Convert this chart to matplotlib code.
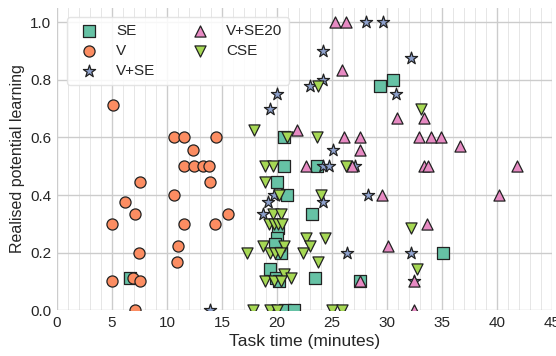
import matplotlib
matplotlib.use('Agg')
import matplotlib.pyplot as plt
from matplotlib.ticker import MultipleLocator

plt.rcParams['font.family'] = ['Liberation Sans', 'DejaVu Sans']

# data
se_x = [6.64, 20.6, 20.6, 23.65, 29.4, 30.55, 19.97, 20.9, 23.2, 20.1, 19.97, 19.8,
        20.4, 35.1, 19.4, 23.45, 27.55, 19.9, 20.2, 20.7, 21.5]
se_y = [0.111, 0.60, 0.50, 0.50, 0.778, 0.80, 0.444, 0.40, 0.333, 0.286, 0.25, 0.23,
        0.20, 0.20, 0.143, 0.111, 0.10, 0.111, 0.10, 0.0, 0.0]

v_x = [5.06, 10.67, 11.52, 14.45, 12.33, 11.52, 12.48, 13.27, 13.85, 7.55, 13.9, 10.67,
       6.2, 7.12, 15.55, 4.97, 11.58, 14.4, 11.03, 7.48, 10.88, 4.97, 6.94, 7.55, 7.09]
v_y = [0.714, 0.60, 0.60, 0.60, 0.556, 0.50, 0.50, 0.50, 0.50, 0.444, 0.444, 0.40,
       0.375, 0.333, 0.333, 0.30, 0.30, 0.30, 0.222, 0.20, 0.167, 0.10, 0.111, 0.10, 0.0]

vse_x = [28.1, 29.6, 24.15, 32.15, 24.2, 23.0, 30.8, 19.97, 19.4, 25.06, 24.2, 24.75,
         27.1, 19.7, 28.3, 19.2, 24.15, 18.7, 26.4, 32.2, 32.45, 13.9]
vse_y = [1.0, 1.0, 0.90, 0.875, 0.80, 0.778, 0.75, 0.75, 0.70, 0.556, 0.50, 0.50,
         0.50, 0.40, 0.40, 0.375, 0.375, 0.333, 0.20, 0.20, 0.10, 0.0]

vse20_x = [25.27, 26.27, 25.9, 30.9, 33.4, 21.8, 26.1, 27.5, 32.9, 34.0, 34.9, 36.6,
           27.5, 22.6, 26.8, 33.4, 33.75, 41.8, 29.5, 40.15, 33.6, 30.1, 27.55, 32.45, 32.45]
vse20_y = [1.0, 1.0, 0.833, 0.667, 0.667, 0.625, 0.60, 0.60, 0.60, 0.60, 0.60, 0.571,
           0.556, 0.50, 0.50, 0.50, 0.50, 0.50, 0.40, 0.40, 0.30, 0.222, 0.10, 0.10, 0.0]

cse_x = [17.9, 23.7, 33.06, 20.9, 23.6, 18.9, 19.66, 26.3, 18.9, 20.2, 23.97, 19.6, 20.4,
         19.3, 19.7, 20.1, 20.45, 32.2, 22.6, 24.4, 18.75, 20.6, 23.0, 17.3, 19.4, 19.8,
         20.3, 22.4, 23.75, 32.7, 20.65, 21.3, 18.9, 19.7, 20.4, 17.85, 19.4, 20.0, 24.97, 25.9]
cse_y = [0.625, 0.778, 0.70, 0.60, 0.60, 0.50, 0.50, 0.50, 0.444, 0.40, 0.40, 0.333, 0.333,
         0.30, 0.30, 0.30, 0.30, 0.286, 0.25, 0.25, 0.222, 0.222, 0.222, 0.20, 0.20, 0.20,
         0.20, 0.20, 0.167, 0.143, 0.125, 0.111, 0.10, 0.10, 0.10, 0.0, 0.0, 0.0, 0.0, 0.0]

groups = [
    ('SE', se_x, se_y, 's', '#66c2a5'),
    ('V', v_x, v_y, 'o', '#fc8d62'),
    ('V+SE', vse_x, vse_y, '*', '#8da0cb'),
    ('V+SE20', vse20_x, vse20_y, '^', '#e78ac3'),
    ('CSE', cse_x, cse_y, 'v', '#a6d854'),
]

fig = plt.figure(figsize=(5.56, 3.56), dpi=100)
ax = fig.add_axes([0.1025, 0.129, 0.8905, 0.8485])

for name, xs, ys, mk, col in groups:
    size = 85 if mk == '*' else 64
    ax.scatter(xs, ys, s=size, marker=mk, c=col, edgecolors='#222222',
               linewidths=0.9, label=name, zorder=3, clip_on=True)

ax.set_xlim(0, 45)
ax.set_ylim(0, 1.05)
ax.xaxis.set_major_locator(MultipleLocator(5))
ax.xaxis.set_minor_locator(MultipleLocator(1))
ax.yaxis.set_major_locator(MultipleLocator(0.2))
ax.grid(which='major', color='#cccccc', linewidth=1.0, zorder=0)
ax.grid(which='minor', axis='x', color='#e6e6e6', linewidth=0.7, zorder=0)
ax.set_axisbelow(True)
for sp in ax.spines.values():
    sp.set_visible(False)
ax.tick_params(which='both', length=0, labelsize=11, colors='#262626', pad=4)

ax.set_xlabel('Task time (minutes)', fontsize=12.5, color='#262626', labelpad=3)
ax.set_ylabel('Realised potential learning', fontsize=11.5, color='#262626', labelpad=4)

leg = ax.legend(loc='upper left', ncol=2, fontsize=11, frameon=True,
                columnspacing=1.9, handletextpad=0.75, borderpad=0.45,
                labelspacing=0.4, bbox_to_anchor=(0.005, 0.995))
leg.get_frame().set_edgecolor('#e0e0e0')
leg.get_frame().set_facecolor('white')
leg.get_frame().set_alpha(0.85)
for t in leg.get_texts():
    t.set_color('#262626')

fig.savefig('out.png', dpi=100)
